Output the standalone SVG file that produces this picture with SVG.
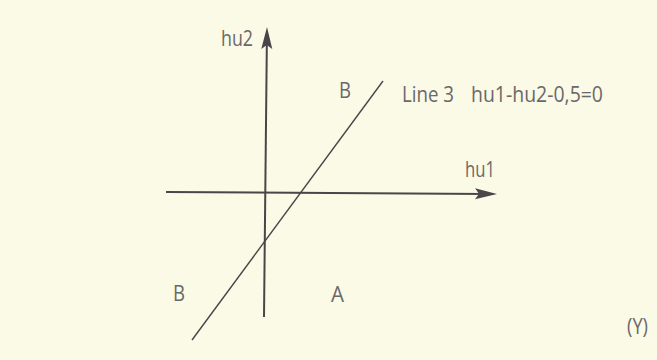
<svg xmlns="http://www.w3.org/2000/svg" width="657" height="360" viewBox="0 0 657 360">
<style>
.axis{stroke:#4a4549;stroke-width:2;fill:none}
.line{stroke:#4a4549;stroke-width:1.4;fill:none}
.lbl{font-family:"Open Sans","Liberation Sans",sans-serif;font-size:21px;fill:#6a6869}
</style>
<defs>
<marker id="arr" viewBox="0 -6 22 12" refX="12" refY="0" markerWidth="22" markerHeight="12" markerUnits="userSpaceOnUse" orient="auto">
<path d="M0,-5.5 L22,0 L0,5.5 L4,0 Z" fill="#4a4549"/>
</marker>
</defs>
<rect width="657" height="360" fill="#fbfae6"/>
<g id="connectors">
<line class="axis" x1="264" y1="317" x2="266.9" y2="37" marker-end="url(#arr)"/>
<line class="axis" x1="166" y1="192" x2="487" y2="193.9" marker-end="url(#arr)"/>
<line class="line" x1="383" y1="81" x2="192" y2="340"/>
</g>
<g id="hu2"><text class="lbl" x="221" y="46" textLength="32" lengthAdjust="spacingAndGlyphs">hu2</text></g>
<g id="hu1"><text class="lbl" x="465" y="177" textLength="30" lengthAdjust="spacingAndGlyphs">hu1</text></g>
<g id="line3"><text class="lbl" x="402" y="102" textLength="52" lengthAdjust="spacingAndGlyphs">Line 3</text><text class="lbl" x="471" y="102" textLength="132" lengthAdjust="spacingAndGlyphs">hu1-hu2-0,5=0</text></g>
<g id="B-top"><text class="lbl" x="339" y="98" textLength="12" lengthAdjust="spacingAndGlyphs">B</text></g>
<g id="B-bottom"><text class="lbl" x="173" y="301" textLength="12" lengthAdjust="spacingAndGlyphs">B</text></g>
<g id="A"><text class="lbl" x="331" y="302" textLength="13" lengthAdjust="spacingAndGlyphs">A</text></g>
<g id="Y"><text class="lbl" x="627" y="334" textLength="21" lengthAdjust="spacingAndGlyphs">(Y)</text></g>
</svg>
